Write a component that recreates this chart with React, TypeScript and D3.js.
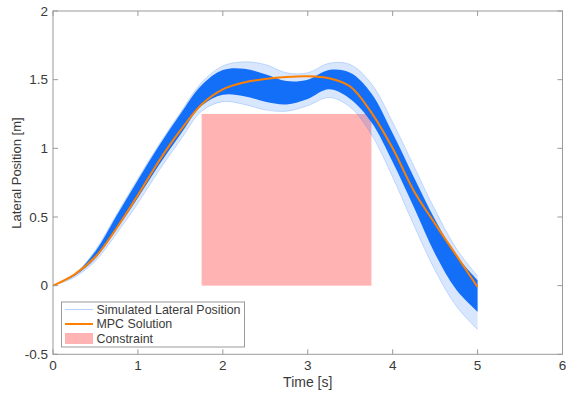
import React from "react";
import * as d3 from "d3";

// ---- data ----
const times = [0, 0.25, 0.5, 0.75, 1, 1.25, 1.5, 1.75, 2, 2.25, 2.5, 2.75, 3, 3.25, 3.5, 3.75, 4, 4.25, 4.5, 4.75, 5];
const mpcSolution = [0, 0.08, 0.21, 0.42, 0.66, 0.91, 1.13, 1.32, 1.43, 1.48, 1.505, 1.52, 1.525, 1.51, 1.45, 1.26, 1.0, 0.69, 0.45, 0.22, -0.01];
// dense core of the simulated trajectories
const coreUpper = [0, 0.08, 0.25, 0.51, 0.77, 1.02, 1.25, 1.46, 1.57, 1.58, 1.54, 1.49, 1.5, 1.57, 1.55, 1.4, 1.11, 0.79, 0.48, 0.22, 0.04];
const coreLower = [0, 0.07, 0.2, 0.41, 0.64, 0.88, 1.1, 1.31, 1.39, 1.38, 1.34, 1.32, 1.36, 1.43, 1.36, 1.19, 0.9, 0.57, 0.23, -0.03, -0.19];
// outermost simulated trajectories
const outerUpper = [0, 0.08, 0.26, 0.52, 0.78, 1.03, 1.26, 1.48, 1.6, 1.63, 1.61, 1.55, 1.55, 1.62, 1.61, 1.47, 1.19, 0.87, 0.55, 0.27, 0.07];
const outerLower = [0, 0.06, 0.18, 0.38, 0.6, 0.84, 1.06, 1.27, 1.34, 1.32, 1.28, 1.27, 1.31, 1.37, 1.3, 1.1, 0.79, 0.44, 0.11, -0.15, -0.32];
const constraintX = [1.75, 3.75];
const constraintY = [0, 1.25];
const xTicks = [0, 1, 2, 3, 4, 5, 6];
const yTicks = [-0.5, 0, 0.5, 1, 1.5, 2];
const legendLabels = ["Simulated Lateral Position", "MPC Solution", "Constraint"];

const W = 566, H = 395;
const L = 53, R = 562.5, T = 11, B = 354.3;
const BLUE = "#0a68f8";
const ORANGE = "#ff8000";
const PINK = "#ffb3b3";
const AXIS = "#9a9a9a";
const TEXT = "#3a3a3a";
const FONT = "Arial, 'Liberation Sans', Helvetica, sans-serif";

export default function App() {
  const x = d3.scaleLinear().domain([0, 6]).range([L, R]);
  const y = d3.scaleLinear().domain([-0.5, 2]).range([B, T]);

  const line = d3
    .line<number>()
    .x((_, i) => x(times[i]))
    .y((d) => y(d))
    .curve(d3.curveCatmullRom.alpha(0.5));

  const band = (up: number[], lo: number[]) =>
    d3
      .area<number>()
      .x((_, i) => x(times[i]))
      .y0((_, i) => y(lo[i]))
      .y1((_, i) => y(up[i]))
      .curve(d3.curveCatmullRom.alpha(0.5))(times) as string;

  const tickLen = 5;

  return (
    <svg width={W} height={H} style={{ position: "absolute", left: 0, top: 0, background: "#fff" }} fontFamily={FONT}>
      <rect x={0} y={0} width={W} height={H} fill="#fff" />
      {/* constraint */}
      <rect
        x={x(constraintX[0])}
        y={y(constraintY[1])}
        width={x(constraintX[1]) - x(constraintX[0])}
        height={y(constraintY[0]) - y(constraintY[1])}
        fill={PINK}
      />
      {/* simulated trajectories */}
      <path d={band(outerUpper, outerLower)} fill={BLUE} fillOpacity={0.16} />
      <path d={line(outerUpper) as string} fill="none" stroke={BLUE} strokeOpacity={0.25} strokeWidth={0.8} />
      <path d={line(outerLower) as string} fill="none" stroke={BLUE} strokeOpacity={0.25} strokeWidth={0.8} />
      <path d={band(coreUpper, coreLower)} fill={BLUE} fillOpacity={0.95} />
      {/* MPC */}
      <path d={line(mpcSolution) as string} fill="none" stroke={ORANGE} strokeWidth={2} />

      {/* axes box */}
      <rect x={L} y={T} width={R - L} height={B - T} fill="none" stroke={AXIS} strokeWidth={1} />
      {xTicks.map((t) => (
        <g key={"x" + t}>
          <line x1={x(t)} x2={x(t)} y1={B} y2={B - tickLen} stroke={AXIS} />
          <line x1={x(t)} x2={x(t)} y1={T} y2={T + tickLen} stroke={AXIS} />
          <text x={x(t)} y={370} textAnchor="middle" fontSize={13.5} fill={TEXT}>
            {t}
          </text>
        </g>
      ))}
      {yTicks.map((t) => (
        <g key={"y" + t}>
          <line x1={L} x2={L + tickLen} y1={y(t)} y2={y(t)} stroke={AXIS} />
          <line x1={R} x2={R - tickLen} y1={y(t)} y2={y(t)} stroke={AXIS} />
          <text x={48} y={y(t) + 4.8} textAnchor="end" fontSize={13.5} fill={TEXT}>
            {t}
          </text>
        </g>
      ))}
      <text x={(L + R) / 2} y={387} textAnchor="middle" fontSize={14} fill={TEXT}>
        Time [s]
      </text>
      <text transform={`translate(21, 173) rotate(-90)`} textAnchor="middle" fontSize={13} fill={TEXT}>
        Lateral Position [m]
      </text>

      {/* legend */}
      <g>
        <rect x={61.5} y={302} width={183} height={45} fill="#fff" stroke={AXIS} strokeWidth={1} />
        <line x1={65} x2={93} y1={309.5} y2={309.5} stroke={BLUE} strokeOpacity={0.3} strokeWidth={1} />
        <line x1={65} x2={93} y1={324} y2={324} stroke={ORANGE} strokeWidth={2} />
        <rect x={65} y={333} width={28} height={11} fill={PINK} />
        {legendLabels.map((s, i) => (
          <text key={s} x={96.5} y={313.8 + i * 14.6} fontSize={12.4} fill={TEXT}>
            {s}
          </text>
        ))}
      </g>
    </svg>
  );
}
